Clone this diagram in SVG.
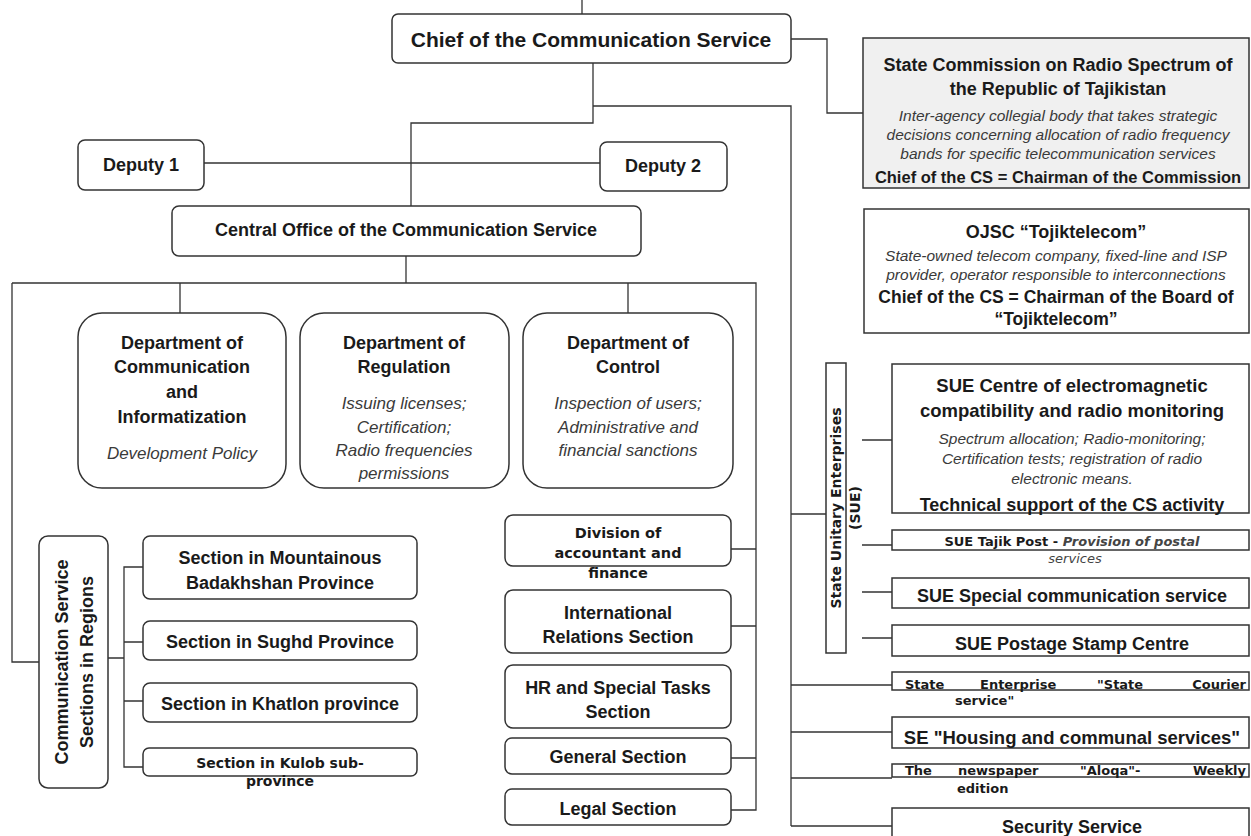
<svg xmlns="http://www.w3.org/2000/svg" width="1251" height="836" viewBox="0 0 1251 836">
<style>
.bx{fill:#fff;stroke:#333;stroke-width:1.5}
.gb{fill:#f0f0f0;stroke:#333;stroke-width:1.5}
.ln{fill:none;stroke:#333;stroke-width:1.3}
text{dominant-baseline:central;text-anchor:middle}
.b{font-family:"Liberation Sans",Arial,sans-serif;font-weight:bold;fill:#1a1a1a;font-size:18px}
.i{font-family:"Liberation Sans",Arial,sans-serif;font-style:italic;fill:#3a3a3a;font-size:17px}
.v{font-family:"DejaVu Sans",Verdana,sans-serif;font-weight:bold;fill:#1a1a1a;font-size:13px}
.vi{font-family:"DejaVu Sans",Verdana,sans-serif;font-style:italic;fill:#444;font-size:13px}
.st{text-anchor:start}
.en{text-anchor:end}
</style>
<rect width="1251" height="836" fill="#fff"/>
<g id="connectors">
<path class="ln" d="M582 0V30"/>
<path class="ln" d="M791 39H827V113H863"/>
<path class="ln" d="M593 63V123H411V206"/>
<path class="ln" d="M593 106H791V826"/>
<path class="ln" d="M204 163H600"/>
<path class="ln" d="M406 256V283"/>
<path class="ln" d="M12 283H756V810H731"/>
<path class="ln" d="M180 283V313M628 283V313"/>
<path class="ln" d="M12 283V662H39"/>
<path class="ln" d="M108 658H124M143 567H124V767H143M124 642H143M124 701H143"/>
<path class="ln" d="M731 549H756M731 626H756M731 758H756"/>
<path class="ln" d="M791 514H826"/>
<path class="ln" d="M862 440H892M862 545H892M862 592H892M862 638H892"/>
<path class="ln" d="M791 685H892M791 732H892M791 778H892M791 826H892"/>
</g>
<g id="chief"><rect class="bx" x="392" y="14" width="399" height="49" rx="6"/><text class="b" x="591" y="39" style="font-size:21px">Chief of the Communication Service</text></g>
<g id="commission"><rect class="gb" x="863" y="38" width="386" height="150"/>
<text class="b" x="1058" y="65">State Commission on Radio Spectrum of</text>
<text class="b" x="1058" y="89">the Republic of Tajikistan</text>
<text class="i" x="1058" y="115" style="font-size:15.5px">Inter-agency collegial body that takes strategic</text>
<text class="i" x="1058" y="134" style="font-size:15.5px">decisions concerning allocation of radio frequency</text>
<text class="i" x="1058" y="153" style="font-size:15.5px">bands for specific telecommunication services</text>
<text class="b" x="1058" y="177" style="font-size:16.5px">Chief of the CS = Chairman of the Commission</text></g>
<g id="ojsc"><rect class="bx" x="864" y="209" width="385" height="124"/>
<text class="b" x="1056" y="232">OJSC “Tojiktelecom”</text>
<text class="i" x="1056" y="255" style="font-size:15.5px">State-owned telecom company, fixed-line and ISP</text>
<text class="i" x="1056" y="274" style="font-size:15.5px">provider, operator responsible to interconnections</text>
<text class="b" x="1056" y="297" style="font-size:17.5px">Chief of the CS = Chairman of the Board of</text>
<text class="b" x="1056" y="319" style="font-size:17.5px">“Tojiktelecom”</text></g>
<g id="deputy1"><rect class="bx" x="78" y="140" width="126" height="50" rx="7"/><text class="b" x="141" y="165">Deputy 1</text></g>
<g id="deputy2"><rect class="bx" x="600" y="142" width="127" height="49" rx="7"/><text class="b" x="663" y="166">Deputy 2</text></g>
<g id="central"><rect class="bx" x="172" y="206" width="469" height="50" rx="7"/><text class="b" x="406" y="230">Central Office of the Communication Service</text></g>
<g id="dept-comm"><rect class="bx" x="78" y="313" width="208" height="175" rx="24"/>
<text class="b" x="182" y="343">Department of</text><text class="b" x="182" y="367">Communication</text><text class="b" x="182" y="392">and</text><text class="b" x="182" y="417">Informatization</text>
<text class="i" x="182" y="453">Development Policy</text></g>
<g id="dept-reg"><rect class="bx" x="300" y="313" width="209" height="175" rx="24"/>
<text class="b" x="404" y="343">Department of</text><text class="b" x="404" y="367">Regulation</text>
<text class="i" x="404" y="403">Issuing licenses;</text><text class="i" x="404" y="427">Certification;</text><text class="i" x="404" y="450">Radio frequencies</text><text class="i" x="404" y="473">permissions</text></g>
<g id="dept-control"><rect class="bx" x="523" y="313" width="210" height="175" rx="24"/>
<text class="b" x="628" y="343">Department of</text><text class="b" x="628" y="367">Control</text>
<text class="i" x="628" y="403">Inspection of users;</text><text class="i" x="628" y="427">Administrative and</text><text class="i" x="628" y="450">financial sanctions</text></g>
<g id="regions"><rect class="bx" x="39" y="536" width="69" height="252" rx="9"/>
<text class="b" transform="translate(62 662) rotate(-90)">Communication Service</text>
<text class="b" transform="translate(87 662) rotate(-90)">Sections in Regions</text></g>
<g id="sec-badakhshan"><rect class="bx" x="143" y="536" width="274" height="63" rx="7"/><text class="b" x="280" y="558">Section in Mountainous</text><text class="b" x="280" y="583">Badakhshan Province</text></g>
<g id="sec-sughd"><rect class="bx" x="143" y="621" width="274" height="39" rx="7"/><text class="b" x="280" y="642">Section in Sughd Province</text></g>
<g id="sec-khatlon"><rect class="bx" x="143" y="683" width="274" height="39" rx="7"/><text class="b" x="280" y="704">Section in Khatlon province</text></g>
<g id="sec-kulob"><rect class="bx" x="143" y="748" width="274" height="28" rx="6"/><text class="v" x="280" y="763" style="font-size:14px">Section in Kulob sub-</text><text class="v" x="280" y="781" style="font-size:14px">province</text></g>
<g id="div-finance"><rect class="bx" x="505" y="515" width="226" height="51" rx="8"/><text class="v" x="618" y="533" style="font-size:14.5px">Division of</text><text class="v" x="618" y="553" style="font-size:14.5px">accountant and</text><text class="v" x="618" y="573" style="font-size:14.5px">finance</text></g>
<g id="intl"><rect class="bx" x="505" y="590" width="226" height="63" rx="8"/><text class="b" x="618" y="613">International</text><text class="b" x="618" y="637">Relations Section</text></g>
<g id="hr"><rect class="bx" x="505" y="665" width="226" height="63" rx="8"/><text class="b" x="618" y="688">HR and Special Tasks</text><text class="b" x="618" y="712">Section</text></g>
<g id="general"><rect class="bx" x="505" y="738" width="226" height="36" rx="7"/><text class="b" x="618" y="757">General Section</text></g>
<g id="legal"><rect class="bx" x="505" y="789" width="226" height="36" rx="7"/><text class="b" x="618" y="809">Legal Section</text></g>
<g id="sue-label"><rect class="bx" x="826" y="363" width="20" height="290"/>
<text class="v" transform="translate(836 508) rotate(-90)" style="font-size:14px">State Unitary Enterprises</text>
<text class="v" transform="translate(855 508) rotate(-90)" style="font-size:14px">(SUE)</text></g>
<g id="sue-emc"><rect class="bx" x="892" y="364" width="357" height="149"/>
<text class="b" x="1072" y="385" style="font-size:18.5px">SUE Centre of electromagnetic</text>
<text class="b" x="1072" y="410" style="font-size:18.5px">compatibility and radio monitoring</text>
<text class="i" x="1072" y="438" style="font-size:15.5px">Spectrum allocation; Radio-monitoring;</text>
<text class="i" x="1072" y="458" style="font-size:15.5px">Certification tests; registration of radio</text>
<text class="i" x="1072" y="478" style="font-size:15.5px">electronic means.</text>
<text class="b" x="1072" y="505">Technical support of the CS activity</text></g>
<g id="sue-post"><rect class="bx" x="892" y="530" width="357" height="20"/>
<text class="v" x="1072" y="541">SUE Tajik Post - <tspan class="vi">Provision of postal</tspan></text>
<text class="vi" x="1075" y="558">services</text></g>
<g id="sue-special"><rect class="bx" x="892" y="578" width="357" height="30"/><text class="b" x="1072" y="596">SUE Special communication service</text></g>
<g id="sue-stamp"><rect class="bx" x="892" y="625" width="357" height="31"/><text class="b" x="1072" y="644">SUE Postage Stamp Centre</text></g>
<g id="courier"><rect class="bx" x="892" y="672" width="357" height="18"/>
<text class="v st" x="905" y="684">State</text><text class="v st" x="980" y="684">Enterprise</text><text class="v st" x="1097" y="684">"State</text><text class="v en" x="1246" y="684">Courier</text>
<text class="v st" x="955" y="700">service"</text></g>
<g id="housing"><rect class="bx" x="892" y="717" width="357" height="31"/><text class="b" x="1072" y="737" style="font-size:18.5px">SE "Housing and communal services"</text></g>
<g id="newspaper"><rect class="bx" x="892" y="764" width="357" height="13"/>
<text class="v st" x="905" y="770">The</text><text class="v st" x="958" y="770">newspaper</text><text class="v st" x="1080" y="770">"Aloqa"-</text><text class="v en" x="1246" y="770">Weekly</text>
<text class="v st" x="957" y="788">edition</text></g>
<g id="security"><rect class="bx" x="892" y="808" width="357" height="40"/><text class="b" x="1072" y="827">Security Service</text></g>
</svg>
